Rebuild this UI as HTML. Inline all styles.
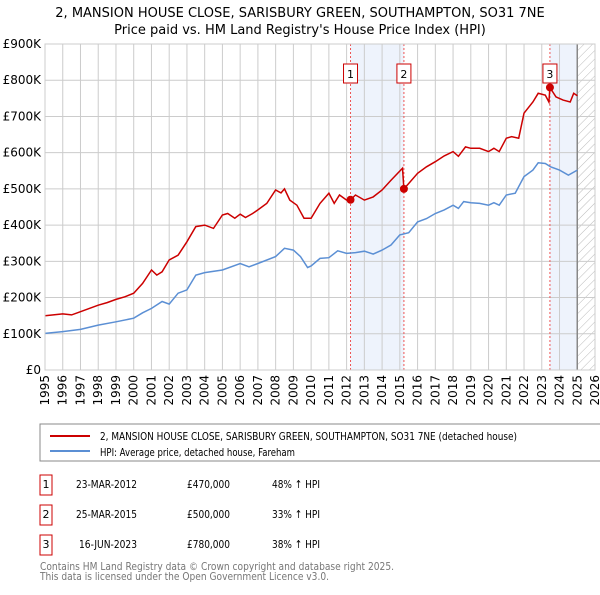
<!DOCTYPE html>
<html><head><meta charset="utf-8"><style>
body{margin:0;background:#fff;font-family:"Liberation Sans","DejaVu Sans",sans-serif;}
svg text{font-family:"DejaVu Sans","Liberation Sans",sans-serif;}
</style></head><body>
<svg id="c" width="600" height="590" xmlns="http://www.w3.org/2000/svg">
<defs><pattern id="h" width="6" height="6" patternUnits="userSpaceOnUse" patternTransform="rotate(45)"><line x1="0" y1="0" x2="0" y2="6" stroke="#bbb" stroke-width="1"/></pattern></defs>
<text x="300" y="17" text-anchor="middle" font-size="13">2, MANSION HOUSE CLOSE, SARISBURY GREEN, SOUTHAMPTON, SO31 7NE</text>
<text x="300" y="34" text-anchor="middle" font-size="13">Price paid vs. HM Land Registry's House Price Index (HPI)</text>
<g id="plot"></g>
<rect x="40" y="424" width="565" height="37" fill="none" stroke="#888"/>
<line x1="50" y1="436" x2="90" y2="436" stroke="#cc0000" stroke-width="2"/>
<text x="100" y="440" font-size="11" textLength="417" lengthAdjust="spacingAndGlyphs">2, MANSION HOUSE CLOSE, SARISBURY GREEN, SOUTHAMPTON, SO31 7NE (detached house)</text>
<line x1="50" y1="451" x2="90" y2="451" stroke="#5b8fd4" stroke-width="2"/>
<text x="100" y="456" font-size="11" textLength="195" lengthAdjust="spacingAndGlyphs">HPI: Average price, detached house, Fareham</text>
<g font-size="11">
<rect x="40" y="475" width="12" height="20" fill="#fff" stroke="#cc0000"/><text x="46" y="488" text-anchor="middle">1</text>
<text x="76" y="488" textLength="61" lengthAdjust="spacingAndGlyphs">23-MAR-2012</text><text x="187" y="488" textLength="43" lengthAdjust="spacingAndGlyphs">£470,000</text><text x="272" y="488" textLength="48" lengthAdjust="spacingAndGlyphs">48% ↑ HPI</text>
<rect x="40" y="505" width="12" height="20" fill="#fff" stroke="#cc0000"/><text x="46" y="518" text-anchor="middle">2</text>
<text x="76" y="518" textLength="61" lengthAdjust="spacingAndGlyphs">25-MAR-2015</text><text x="187" y="518" textLength="43" lengthAdjust="spacingAndGlyphs">£500,000</text><text x="272" y="518" textLength="48" lengthAdjust="spacingAndGlyphs">33% ↑ HPI</text>
<rect x="40" y="535" width="12" height="20" fill="#fff" stroke="#cc0000"/><text x="46" y="548" text-anchor="middle">3</text>
<text x="79" y="548" textLength="58" lengthAdjust="spacingAndGlyphs">16-JUN-2023</text><text x="187" y="548" textLength="43" lengthAdjust="spacingAndGlyphs">£780,000</text><text x="272" y="548" textLength="48" lengthAdjust="spacingAndGlyphs">38% ↑ HPI</text>
</g>
<text x="40" y="570" font-size="11" fill="#777" textLength="354" lengthAdjust="spacingAndGlyphs">Contains HM Land Registry data © Crown copyright and database right 2025.</text>
<text x="40" y="580" font-size="11" fill="#777" textLength="289" lengthAdjust="spacingAndGlyphs">This data is licensed under the Open Government Licence v3.0.</text>
</svg>
<script>
const yTicks=[0,100,200,300,400,500,600,700,800,900];
const yTickLabels=["£0","£100K","£200K","£300K","£400K","£500K","£600K","£700K","£800K","£900K"];
const years=[1995,1996,1997,1998,1999,2000,2001,2002,2003,2004,2005,2006,2007,2008,2009,2010,2011,2012,2013,2014,2015,2016,2017,2018,2019,2020,2021,2022,2023,2024,2025,2026];
const hpiT=[1995,1996,1997,1998,1999,2000,2000.5,2001,2001.6,2002,2002.5,2003,2003.5,2004,2005,2006,2006.5,2007,2008,2008.5,2009,2009.4,2009.8,2010,2010.5,2011,2011.5,2012,2012.5,2013,2013.5,2014,2014.5,2015,2015.5,2016,2016.5,2017,2017.5,2018,2018.3,2018.6,2019,2019.5,2020,2020.3,2020.6,2021,2021.5,2022,2022.5,2022.8,2023.2,2023.5,2024,2024.5,2025];
const hpiV=[101,106,112,124,133,143,158,170,189,182,212,221,262,269,276,294,285,294,313,336,331,313,283,287,308,310,329,322,324,328,320,331,345,373,379,409,418,432,442,455,446,465,462,460,455,462,455,483,488,534,552,572,570,561,552,538,552];
const propT=[1995,1996,1996.5,1997,1998,1998.5,1999,1999.5,2000,2000.5,2001,2001.3,2001.6,2002,2002.5,2003,2003.5,2004,2004.5,2005,2005.3,2005.7,2006,2006.3,2006.7,2007,2007.5,2008,2008.3,2008.5,2008.8,2009.2,2009.6,2010,2010.5,2011,2011.3,2011.6,2012,2012.22,2012.5,2013,2013.5,2014,2014.5,2015.15,2015.23,2015.5,2016,2016.5,2017,2017.5,2018,2018.3,2018.7,2019,2019.5,2020,2020.3,2020.6,2021,2021.3,2021.7,2022,2022.5,2022.8,2023.2,2023.4,2023.46,2023.8,2024.2,2024.6,2024.8,2025];
const propV=[150,155,152,161,179,186,195,202,212,239,276,262,271,304,317,354,396,400,391,428,432,419,430,421,432,442,460,497,489,500,469,455,419,419,460,488,460,483,469,470,483,469,478,497,524,557,500,515,543,561,575,591,603,590,616,612,612,603,612,603,640,644,640,709,740,764,759,740,780,754,745,740,764,757];
const saleT=[2012.22,2015.23,2023.46];
const saleV=[470,500,780];
const saleLabels=["1","2","3"];
const X0=45,X1=595,Y0=370,Y1=44;
const xs=t=>X0+(t-1995)/(2026-1995)*(X1-X0);
const ys=v=>Y0-v/900*(Y0-Y1);
const NS="http://www.w3.org/2000/svg";
const g=document.getElementById('plot');
function mk(tag,attrs){const e=document.createElementNS(NS,tag);for(const k in attrs)e.setAttribute(k,attrs[k]);g.appendChild(e);return e;}
let r=mk('rect',{x:xs(saleT[0]),y:Y1,width:xs(saleT[1])-xs(saleT[0]),height:Y0-Y1,fill:'#eef3fc'});


r=mk('rect',{x:xs(saleT[2]),y:Y1,width:xs(2025)-xs(saleT[2]),height:Y0-Y1,fill:'#eef3fc'});


r=mk('rect',{x:xs(2025),y:Y1,width:X1-xs(2025),height:Y0-Y1,fill:'url(#h)'});


yTicks.forEach((v,i)=>{
 const l=mk('line',{x1:X0,x2:X1,y1:ys(v),y2:ys(v),stroke:'#ccc'});
 
 
 const t=mk('text',{x:X0-4,y:ys(v)+4,'text-anchor':'end','font-size':'12'});
 t.textContent=yTickLabels[i];
 
 
});
years.forEach(yr=>{
 const l=mk('line',{x1:xs(yr),x2:xs(yr),y1:Y1,y2:Y0,stroke:'#ccc'});
 
 
 const t=mk('text',{x:0,y:0,'text-anchor':'end','font-size':'12',transform:`translate(${xs(yr)+4},${Y0+5}) rotate(-90)`});
 t.textContent=yr;
 
 
});
let b=mk('line',{x1:xs(2025),x2:xs(2025),y1:Y1,y2:Y0,stroke:'#888','stroke-width':1.5});


saleT.forEach((t,i)=>{
 const l=mk('line',{x1:xs(t),x2:xs(t),y1:Y1,y2:Y0,stroke:'#e55','stroke-dasharray':'2,2','stroke-width':1});
 
 
});
const pts=(T,V)=>T.map((t,i)=>xs(t).toFixed(1)+','+ys(V[i]).toFixed(1)).join(' ');
let p=mk('polyline',{points:pts(hpiT,hpiV),fill:'none',stroke:'#5b8fd4','stroke-width':1.5});


p=mk('polyline',{points:pts(propT,propV),fill:'none',stroke:'#cc0000','stroke-width':1.5});


saleT.forEach((t,i)=>{
 const c=mk('circle',{cx:xs(t),cy:ys(saleV[i]),r:4,fill:'#cc0000'});
 
 
 const bx=mk('rect',{x:xs(t)-7,y:64,width:14,height:19,fill:'#fff',stroke:'#cc0000'});
 
 
 const tx=mk('text',{x:xs(t),y:78,'text-anchor':'middle','font-size':'11'});
 tx.textContent=saleLabels[i];
 
 
});
let fr=mk('rect',{x:X0,y:Y1,width:X1-X0,height:Y0-Y1,fill:'none',stroke:'#ccc'});


</script>
</body></html>
